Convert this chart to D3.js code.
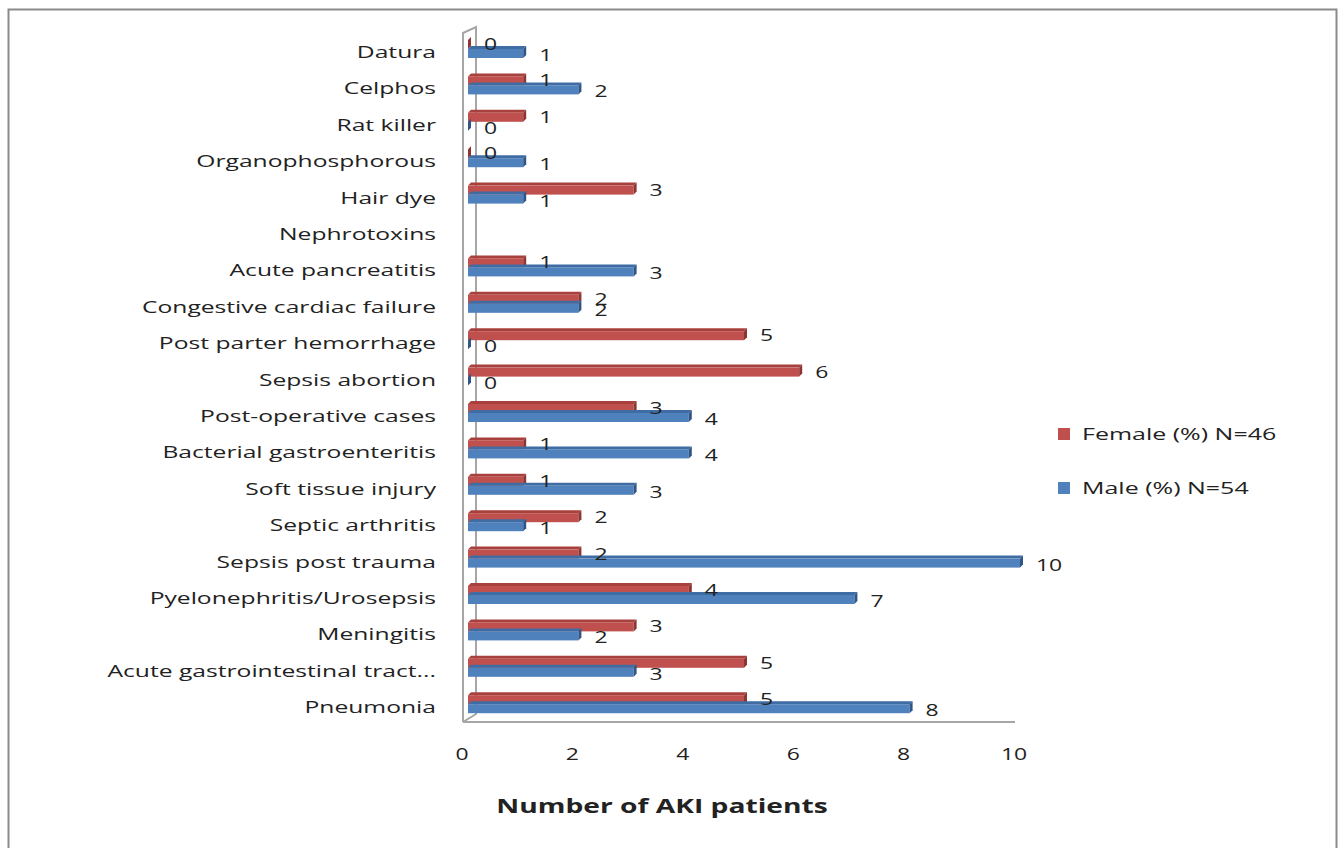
<!DOCTYPE html>
<html>
<head>
<meta charset="utf-8">
<script src="https://cdn.jsdelivr.net/npm/d3@7"></script>
<style>
  body { margin: 0; background: #fff; }
  text { font-family: "Open Sans", sans-serif; fill: #222; }
</style>
</head>
<body>
<div id="graphContainer"></div>
<script>
// AKI causes by sex, 3D-style clustered bars

var categories = [
    "Datura", "Celphos", "Rat killer", "Organophosphorous", "Hair dye",
    "Nephrotoxins", "Acute pancreatitis", "Congestive cardiac failure",
    "Post parter hemorrhage", "Sepsis abortion", "Post-operative cases",
    "Bacterial gastroenteritis", "Soft tissue injury ", "Septic arthritis",
    "Sepsis post trauma ", "Pyelonephritis/Urosepsis", "Meningitis",
    "Acute gastrointestinal tract...", "Pneumonia"
];
// null = no bar (heading row)
var female = [0, 1, 1, 0, 3, null, 1, 2, 5, 6, 3, 1, 1, 2, 2, 4, 3, 5, 5];
var male   = [1, 2, 0, 1, 1, null, 3, 2, 0, 0, 4, 4, 3, 1, 10, 7, 2, 3, 8];
var xTicks = [0, 2, 4, 6, 8, 10];
var seriesNames = ["Female (%)  N=46", "Male (%) N=54"];

var W = 1338, H = 848;

var svg = d3.select("#graphContainer").append("svg")
    .attr("width", W).attr("height", H);

// reference text is stretched sideways, so scale x
function label(g, x, y, txt, anchor, size, sx, weight) {
    return g.append("text")
        .attr("transform", "translate(" + x + "," + y + ") scale(" + sx + ",1)")
        .attr("text-anchor", anchor)
        .attr("dy", "0.35em")
        .style("font-size", size + "px")
        .style("font-weight", weight || "normal")
        .text(txt);
}

// outer frame
svg.append("rect")
    .attr("x", 8.5).attr("y", 9.5)
    .attr("width", 1328).attr("height", 900)
    .attr("fill", "none").attr("stroke", "#8a8a8a").attr("stroke-width", 2);

var x = d3.scaleLinear().domain([0, 10]).range([468, 1020]);
var y = d3.scaleBand().domain(categories).range([33.8, 725.4]).padding(0);

// walls
var wall = svg.append("g").attr("stroke", "#a6a6a6").attr("stroke-width", 2).attr("fill", "none");
wall.append("path").attr("d", "M463,722 L463,33 L476,27 L476,714 L463,722");
wall.append("line").attr("x1", 463).attr("x2", 1015).attr("y1", 722).attr("y2", 722);

var dep = 3;
var colors = [
    { front: "#c0504d", top: "#a8403d", side: "#8c3532" },
    { front: "#4f81bd", top: "#3e6ca3", side: "#2f5687" }
];

function drawBar(g, v, top, h, c) {
    if (v === null) return;
    var x0 = x(0), x1 = x(v);
    g.append("path").attr("fill", c.top)
        .attr("d", "M" + x0 + "," + top + " L" + (x0 + dep) + "," + (top - dep) +
            " L" + (x1 + dep) + "," + (top - dep) + " L" + x1 + "," + top + "Z");
    g.append("rect").attr("fill", c.front)
        .attr("x", x0).attr("y", top).attr("width", x1 - x0).attr("height", h);
    g.append("path").attr("fill", c.side)
        .attr("d", "M" + x1 + "," + top + " L" + (x1 + dep) + "," + (top - dep) +
            " L" + (x1 + dep) + "," + (top + h - dep) + " L" + x1 + "," + (top + h) + "Z");
}

var bars = svg.append("g");
var labels = svg.append("g");
categories.forEach(function(cat, i) {
    var yc = y(cat) + y.bandwidth() / 2;
    drawBar(bars, female[i], yc - 12, 9, colors[0]);
    drawBar(bars, male[i], yc - 3, 9, colors[1]);
    if (female[i] !== null) label(labels, x(female[i]) + 16, yc - 8, female[i], "start", 17, 1.35);
    if (male[i] !== null) label(labels, x(male[i]) + 16, yc + 3, male[i], "start", 17, 1.35);
    label(labels, 436, yc, cat, "end", 17, 1.45);
});

// x ticks
xTicks.forEach(function(t) {
    label(svg, x(t) - 6, 754, t, "middle", 17, 1.35);
});

label(svg, 662, 806, "Number of AKI patients", "middle", 20, 1.41, "bold");

// legend
var legend = svg.append("g");
[0, 1].forEach(function(k) {
    var ly = 434 + k * 54;
    legend.append("rect").attr("x", 1058).attr("y", ly - 6)
        .attr("width", 12).attr("height", 12).attr("fill", colors[k].front);
    label(legend, 1082, ly, seriesNames[k], "start", 17, 1.47);
});
</script>
</body>
</html>
